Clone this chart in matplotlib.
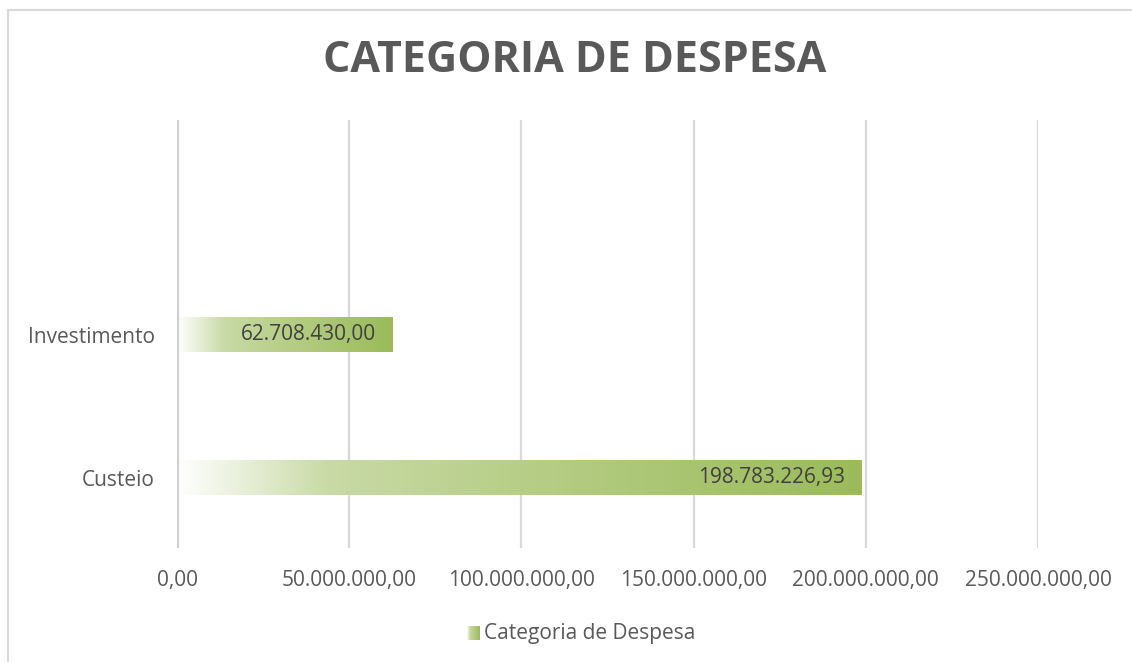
import numpy as np
import matplotlib.pyplot as plt
from matplotlib.colors import LinearSegmentedColormap
from matplotlib.patches import Rectangle

# data
categories = ['Custeio', 'Investimento']
values = [198783226.93, 62708430.00]
xticks = [0, 50e6, 100e6, 150e6, 200e6, 250e6]
title = 'CATEGORIA DE DESPESA'
series_name = 'Categoria de Despesa'


def br_fmt(v):
    s = '{:,.2f}'.format(v)
    return s.replace(',', 'X').replace('.', ',').replace('X', '.')


plt.rcParams['font.family'] = ['Open Sans', 'DejaVu Sans']
grey = '#595959'

fig = plt.figure(figsize=(11.32, 6.62), dpi=100)
ax = fig.add_axes([177 / 1132, 1 - 548 / 662, (1038 - 177) / 1132, (548 - 120) / 662])

# outer chart frame
fig.patches.append(Rectangle((8 / 1132, -0.1), 1.2, 1 - 10 / 662 + 0.1, transform=fig.transFigure,
                             fill=False, edgecolor='#D9D9D9', lw=1.5, zorder=0))

cmap = LinearSegmentedColormap.from_list('grad', [(0, '#FFFFFF'), (0.22, '#C9DAA6'),
                                                  (0.5, '#B7CE88'), (1, '#9BBB59')])
grad = np.linspace(0, 1, 256).reshape(1, -1)
bar_h = 34 / 143

for i, (cat, v) in enumerate(zip(categories, values)):
    ax.imshow(grad, cmap=cmap, aspect='auto', extent=[0, v, i - bar_h / 2, i + bar_h / 2],
              zorder=3, interpolation='bicubic')
    ax.annotate(br_fmt(v), (v, i), xytext=(-17, 0), textcoords='offset pixels',
                ha='right', va='center', fontsize=15, color='#404040', zorder=4)

ax.set_xlim(0, 250e6)
ax.set_ylim(-0.49, 2.50)
ax.set_xticks(xticks)
ax.set_xticklabels([br_fmt(t) for t in xticks], fontsize=15, color=grey)
ax.set_yticks(range(len(categories)))
ax.set_yticklabels(categories, fontsize=15, color=grey)
ax.tick_params(length=0, pad=16, axis='x')
ax.tick_params(length=0, pad=16, axis='y')
for s in ax.spines.values():
    s.set_visible(False)
ax.grid(axis='x', color='#D9D9D9', lw=1.6, zorder=0)
ax.axvline(0, color='#CFCFCF', lw=3, zorder=5)

fig.text(575 / 1132, 1 - 60 / 662, title, ha='center', va='center', fontsize=31,
         fontweight='bold', color=grey)

# legend
lax = fig.add_axes([467 / 1132, 1 - 640 / 662, 13 / 1132, 14 / 662])
lax.imshow(grad, cmap=cmap, aspect='auto', extent=[0, 1, 0, 1])
lax.axis('off')
fig.text(484 / 1132, 1 - 633 / 662, series_name, ha='left', va='center', fontsize=15, color=grey)

fig.savefig('out.png', dpi=100)
